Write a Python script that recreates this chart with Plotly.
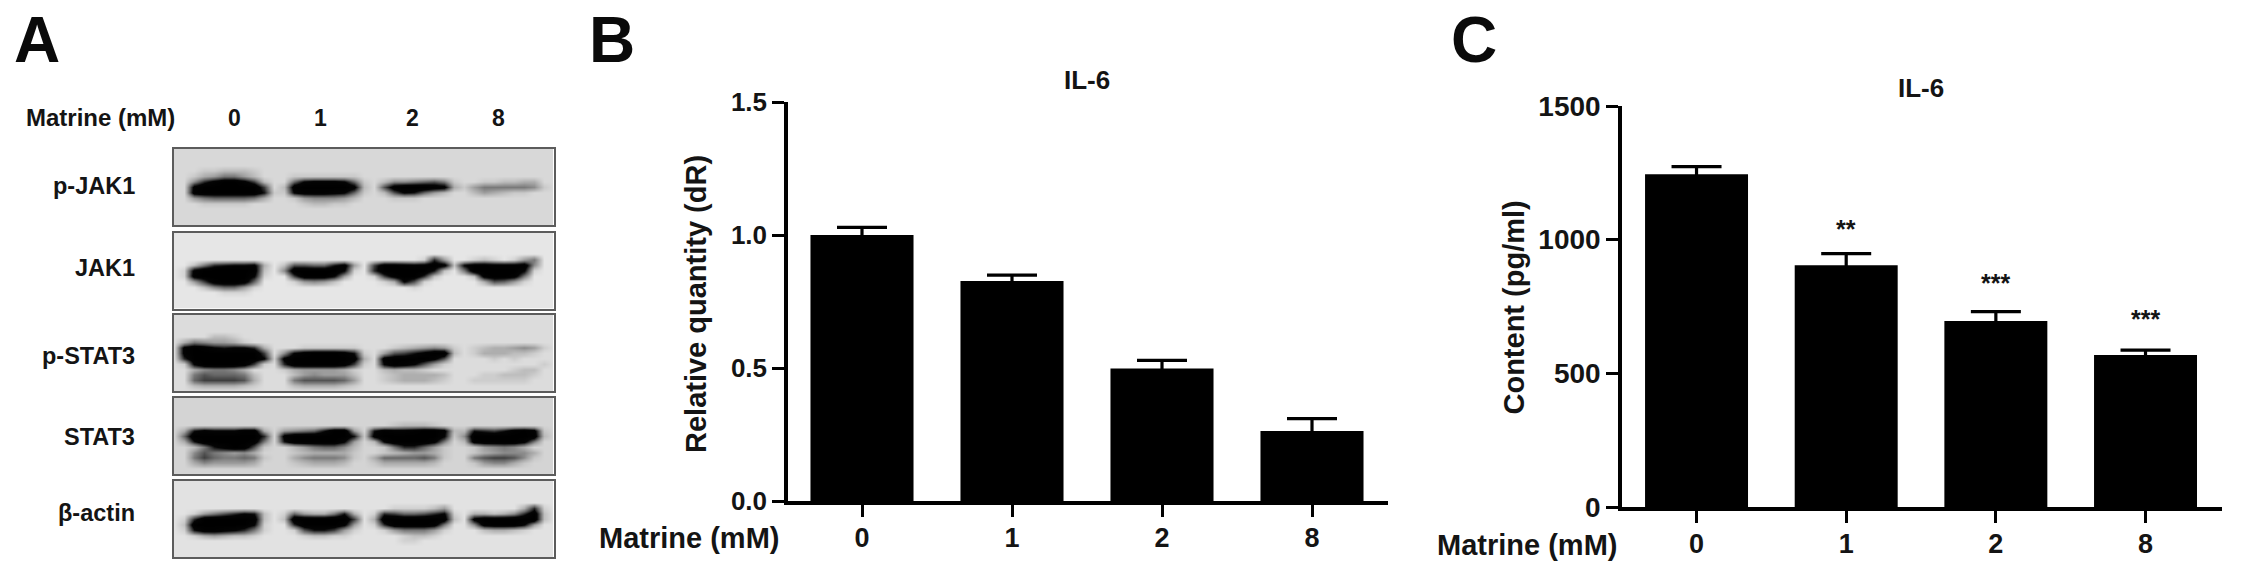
import plotly.graph_objects as go

W, H = 2244, 575
FONT = "Liberation Sans"

# ---------- data ----------
doses = ["0", "1", "2", "8"]
il6_rq = [1.0, 0.827, 0.498, 0.263]
il6_rq_err = [0.029, 0.022, 0.031, 0.047]
il6_content = [1245, 904, 696, 569]
il6_content_err = [28, 44, 35, 18]
content_marks = ["", "**", "***", "***"]
blot_names = ["p-JAK1", "JAK1", "p-STAT3", "STAT3", "β-actin"]
blot_backgrounds = [216, 230, 220, 212, 226]

# Band densitometry read from the blots: 0 = black, f = membrane background.
pjak1 = [
    "ff fffffffff fffffffff fffffffff fffffffff f",
    "ff fffffffff fffffffff fffffffff fffffffff f",
    "ff fffffffff fffffffff fffffffff fffffffff f",
    "ff fffffffff fffffffff fffffffff fffffffff f",
    "ff feedddeff fffffffff fffffffff fffffffff f",
    "ff ecb99bdff feeeeeeef fffffffff fffffffff f",
    "ff a520026df f8322238e fdaa9879e ffeeddccf f",
    "ff 20000006f d1000002d f7100012c eb99999ae f",
    "ff 10000004e e3111238e fd7348bdf fdbcdeeff f",
    "ff b988889cf febaaabdf ffeeeffff fffffffff f",
    "ff feeeeefff ffeddeeff fffffffff fffffffff f",
    "ff fffffffff fffffffff fffffffff fffffffff f",
    "ff fffffffff fffffffff fffffffff fffffffff f",
    "ff fffffffff fffffffff fffffffff fffffffff f",
    "ff fffffffff fffffffff fffffffff fffffffff f",
]
jak1 = [
    "ff fffffffff fffffffff fffffffff fffffffff f",
    "ff fffffffff fffffffff fffffffff fffffffff f",
    "ff fffffffff fffffffff fffffffff fffffffff f",
    "ff fffffffff fffffffff fffffffff fffffffff f",
    "ff fffffffff fffffffff fffffffff fffffffff f",
    "ff fffffffff fffffffff fffffe5bf fedefeb9f f",
    "ff d954332cf d778841bf 60012101d 3001110af f",
    "fe 2000001df a000003ef 5000004df 9000003ef f",
    "fe 1000003ef f60003bff e61005dff fd10019ff f",
    "ff b610018ff febabdfff fec37efff ffc78beff f",
    "ff fda88beff fffffffff ffffeffff fffffffff f",
    "ff fffeeefff fffffffff fffffffff fffffffff f",
    "ff fffffffff fffffffff fffffffff fffffffff f",
    "ff fffffffff fffffffff fffffffff fffffffff f",
    "ff fffffffff fffffffff fffffffff fffffffff f",
]
pstat3 = [
    "ff fffffffff fffffffff fffffffff fffffffff f",
    "ff fffffffff fffffffff fffffffff fffffffff f",
    "ff fffffffff fffffffff fffffffff fffffffff f",
    "ff fffffffff fffffffff fffffffff fffffffff f",
    "ff ffddeffff fffffffff fffffffff fffffffff f",
    "fc 9abbcefff fffffffff fffffffff fffffffff f",
    "f2 0134335cf ffeeeeeef ffedcbabe fedccbabe f",
    "f2 00000006f a3100014e fb764200d fecccddef f",
    "f5 00000003e 20000001c f1000027f fffefefff f",
    "fe 3000016ef 50000016e f30137bef ffffffffe f",
    "ff ca99acfff ecbbbbcef fdcddefff fffffeddf f",
    "ff 978889dff fdbabbbdf fedccccdf ffeedddef f",
    "ff 866667cff f977778bf fedcccdef feeeeeeff f",
    "ff dccccdeff fdccccdef fffffffff fffffffff f",
    "ff fffffffff fffffffff fffffffff fffffffff f",
]
stat3 = [
    "ff fffffffff fffffffff fffffffff fffffffff f",
    "ff fffffffff fffffffff fffffffff fffffffff f",
    "ff fffffffff fffffffff fffffffff fffffffff f",
    "ff fffffffff fffffffff fffffffff fffffffff f",
    "ff fffffffff fffffffff fffffffff fffffffff f",
    "ff fffffffff fffffffff ffedddeff fffffffff f",
    "fc 4233311cf ba98400bf 41221002d d4564102e f",
    "f8 00000005f 20000004e 20000003e a0000001d f",
    "fc 40000019f 4000003bf d3000029f d1000029f f",
    "ff d942017ef fdb988adf fe9558bef feba9acff f",
    "ff a79abacff fedccccef fedcbbcef fecbaaacf f",
    "ff 9689989ef fca999aef c888879ef f97667aef f",
    "ff cabbbbcff fedcccdff ecccccdff febaaceff f",
    "ff fffffffff fffffffff fffffffff fffffffff f",
    "ff fffffffff fffffffff fffffffff fffffffff f",
]
actin = [
    "ff fffffffff fffffffff fffffffff fffffffff f",
    "ff fffffffff fffffffff fffffffff fffffffff f",
    "ff fffffffff fffffffff fffffffff fffffffff f",
    "ff fffffffff fffffffff fffffffff fffffffff f",
    "ff fffffffff fffffffff fffffffff fffffffff f",
    "ff fffffffff fffffffff ffeeeedbf ffffffc5e f",
    "ff eb97534df e8bcc94cf e5688753e fccdca50d f",
    "fe 5000001df d0000006f c0000001d f2000000d f",
    "fd 0000003ef f500002bf e5000019f fa10003bf f",
    "fe 4112359ef fe7446bef feb999bef ffdccdeff f",
    "ff ecbcddeff ffeddeeff fffeddeff fffffffff f",
    "ff fffffffff fffffffff fffeeffff fffffffff f",
    "ff fffffffff fffffffff fffffffff fffffffff f",
    "ff fffffffff fffffffff fffffffff fffffffff f",
    "ff fffffffff fffffffff fffffffff fffffffff f",
]
blots = [pjak1, jak1, pstat3, stat3, actin]

# ---------- layout helpers ----------
def fx(px):
    return px / W

def fy(px):
    return 1 - px / H

layout = dict(
    width=W, height=H, autosize=False,
    margin=dict(l=0, r=0, t=0, b=0, pad=0),
    paper_bgcolor="white", plot_bgcolor="white",
    showlegend=False, bargap=0.313,
    font=dict(family=FONT, color="#141414", weight=700),
)
annotations = []

def note(text, x, y, size, angle=0, anchor="center", color="#141414", xref="paper"):
    annotations.append(dict(
        text=text, x=x if xref != "paper" else fx(x), y=fy(y),
        xref=xref, yref="paper", xanchor=anchor, yanchor="middle",
        textangle=angle, showarrow=False,
        font=dict(family=FONT, size=size, color=color, weight=700),
    ))

traces = []

# ---------- panel A ----------
blot_tops = [149, 232.5, 315, 398, 481]
blot_h = 76
film_scale = [[0, "#000000"], [0.22, "#050505"], [0.5, "#5e5e5e"], [0.75, "#a2a2a2"], [1, "#ffffff"]]
for k, (rows, bg, top) in enumerate(zip(blots, blot_backgrounds, blot_tops)):
    rows = [r.replace(" ", "") for r in rows]
    assert all(len(r) == 39 for r in rows)
    z = [[int(c, 16) / 15 for c in r] for r in rows]
    xn, yn = f"x{k+3}", f"y{k+3}"
    top_grey = f"rgb({bg},{bg},{bg})"
    scale = film_scale[:-1] + [[1, top_grey]]
    traces.append(go.Heatmap(
        z=z, xaxis=xn, yaxis=yn, zmin=0, zmax=1, zsmooth="best",
        colorscale=scale, showscale=False, hoverinfo="skip",
    ))
    box = dict(showline=True, mirror=True, linecolor="#5c5c5c", linewidth=2, automargin=False,
               showticklabels=False, ticks="", showgrid=False, zeroline=False)
    layout[f"xaxis{k+3}"] = dict(domain=[fx(174), fx(553.5)], range=[0, 38], anchor=yn, **box)
    layout[f"yaxis{k+3}"] = dict(domain=[fy(top + blot_h), fy(top)], range=[14, 0], anchor=xn, **box)

note("Matrine (mM)", 100, 118, 24)
for d, px in zip(doses, [234, 320, 412.5, 498]):
    note(d, px, 118, 23)
for name, py in zip(blot_names, [186, 268, 356, 437, 513]):
    note(name, 137, py, 23.5, anchor="right")

# ---------- panels B, C ----------
def bar_panel(xa, ya, vals, errs, x0, x1, y_bot, y_top, yrange, ticks, ticktext, xr, font_size, bw):
    traces.append(go.Bar(
        x=doses, y=vals, xaxis=xa, yaxis=ya, width=bw,
        marker=dict(color="black", line=dict(width=0)),
        error_y=dict(type="data", array=errs, symmetric=True,
                     color="black", thickness=3.2, width=25),
    ))
    layout["xaxis" + xa[1:]] = dict(
        domain=[fx(x0), fx(x1)], type="category", range=xr, anchor=ya, automargin=False,
        showline=True, linecolor="black", linewidth=3.5, ticks="outside", ticklen=12,
        tickwidth=3, tickcolor="black", showgrid=False, zeroline=False,
        ticklabelstandoff=-2,
        tickfont=dict(family=FONT, size=27, color="#141414", weight=700),
    )
    layout["yaxis" + ya[1:]] = dict(
        domain=[fy(y_bot), fy(y_top)], range=yrange, anchor=xa, automargin=False,
        showline=True, linecolor="black", linewidth=3.5, ticks="outside", ticklen=12,
        tickwidth=3, tickcolor="black", showgrid=False, zeroline=False,
        tickvals=ticks, ticktext=ticktext,
        tickfont=dict(family=FONT, size=font_size, color="#141414", weight=700),
    )

bar_panel("x", "y", il6_rq, il6_rq_err, 788, 1388, 501, 102, [0, 1.5],
          [0, 0.5, 1.0, 1.5], ["0.0", "0.5", "1.0", "1.5"], [-0.4933, 3.5067], 26, 0.687)
bar_panel("x2", "y2", il6_content, il6_content_err, 1622, 2222, 507, 106, [0, 1500],
          [0, 500, 1000, 1500], ["0", "500", "1000", "1500"], [-0.498, 3.511], 28, 0.688)

note("IL-6", 1087, 80, 26)
note("IL-6", 1921, 88, 26)
note("Relative quantity (dR)", 696, 304, 29, angle=-90)
note("Content (pg/ml)", 1513.5, 308, 29, angle=-90)
note("Matrine (mM)", 689, 538, 29)
note("Matrine (mM)", 1527, 544.5, 29)
for i, (m, py) in enumerate(zip(content_marks, [0, 229, 283, 319])):
    if m:
        note(m, i, py, 25, xref="x2")

# ---------- panel letters ----------
note("A", 37, 40, 64, color="#0a0a0a")
note("B", 612, 40, 64, color="#0a0a0a")
note("C", 1474, 40, 64, color="#0a0a0a")

layout["annotations"] = annotations
fig = go.Figure(traces, go.Layout(**layout))
fig.write_html("out.html", config=dict(displayModeBar=False),
               post_script="document.body.style.margin='0';document.documentElement.style.overflow='hidden';")
